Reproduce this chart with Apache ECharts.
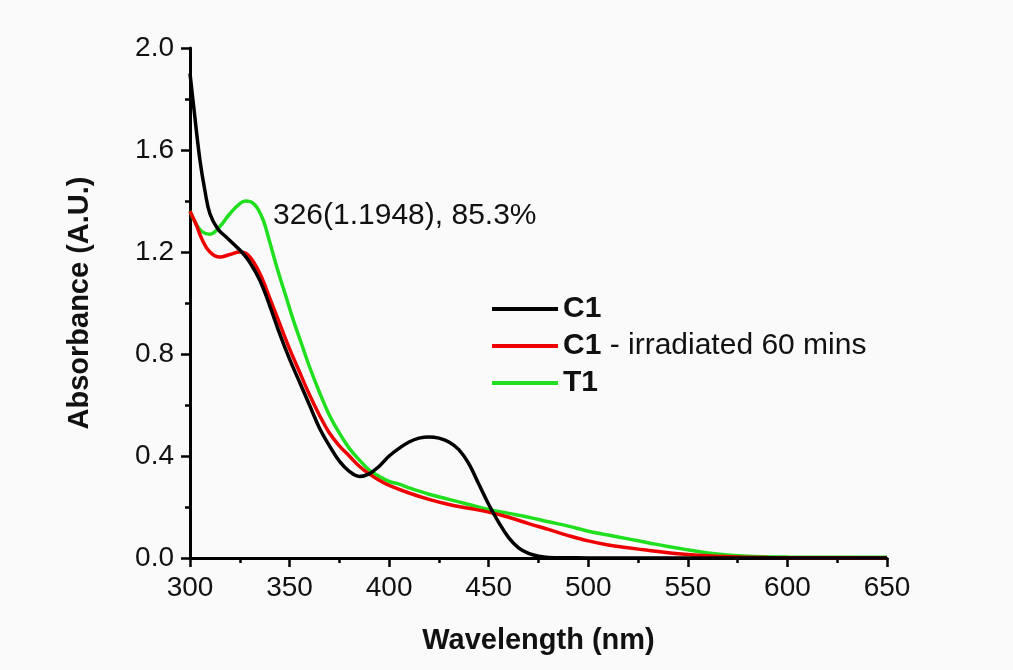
<!DOCTYPE html>
<html>
<head>
<meta charset="utf-8">
<script src="https://cdn.jsdelivr.net/npm/echarts@6/dist/echarts.min.js"></script>
<style>html,body{margin:0;padding:0;background:#fafafa;}#chart{width:1013px;height:670px;}</style>
</head>
<body>
<div id="chart"></div>
<script>
// Wavelength (nm) and absorbance values
const c1Wavelength = [300,302,305,307.5,310,314,318,322,326,330,335,340,345,350,355,360,365,370,375,380,385,390,395,400,405,410,415,420,425,430,435,440,445,450,455,460,465,470,475,480,490,500,550,600,650];
const c1Absorbance = [1.90,1.76,1.56,1.44,1.35,1.29,1.26,1.23,1.20,1.16,1.09,0.99,0.88,0.78,0.69,0.60,0.51,0.44,0.38,0.34,0.32,0.33,0.36,0.40,0.43,0.455,0.47,0.475,0.47,0.455,0.425,0.37,0.29,0.21,0.14,0.08,0.04,0.018,0.007,0.002,0.001,0,0,0,0];

const irrWavelength = [300,303,306,310,315,320,325,328,332,336,340,345,350,355,360,365,370,375,380,385,390,395,400,410,420,430,440,450,460,470,480,490,500,510,520,530,540,550,560,575,590,610,650];
const irrAbsorbance = [1.36,1.31,1.25,1.20,1.18,1.19,1.20,1.195,1.16,1.10,1.02,0.92,0.82,0.73,0.64,0.56,0.49,0.44,0.40,0.36,0.33,0.305,0.285,0.255,0.23,0.21,0.195,0.18,0.16,0.135,0.112,0.088,0.067,0.051,0.04,0.03,0.021,0.014,0.009,0.004,0.002,0.001,0];

const t1Wavelength = [300,303,306,310,315,320,325,328,331,334,337,340,344,348,352,356,360,365,370,375,380,385,390,395,400,405,410,420,430,440,450,460,470,480,490,500,510,520,530,540,550,560,570,580,600,620,650];
const t1Absorbance = [1.36,1.31,1.28,1.27,1.30,1.35,1.39,1.40,1.395,1.37,1.32,1.24,1.13,1.03,0.93,0.84,0.75,0.65,0.56,0.49,0.43,0.385,0.345,0.32,0.30,0.29,0.275,0.25,0.23,0.21,0.19,0.175,0.16,0.142,0.125,0.105,0.09,0.075,0.06,0.045,0.032,0.02,0.012,0.007,0.004,0.003,0.003];

const xTicks = [300,350,400,450,500,550,600,650];
const yTicks = [0.0,0.4,0.8,1.2,1.6,2.0];
const seriesNames = ['C1','C1 - irradiated 60 mins','T1'];
const annotationText = '326(1.1948), 85.3%';

const zip = (xs, ys) => xs.map((x, i) => [x, ys[i]]);
const font = '"Liberation Sans", Arial, sans-serif';
const chart = echarts.init(document.getElementById('chart'));

chart.setOption({
  backgroundColor: '#fafafa',
  animation: false,
  grid: { left: 190, right: 126, top: 48, bottom: 112 },
  xAxis: {
    type: 'value', min: xTicks[0], max: xTicks[xTicks.length-1], interval: 50,
    name: 'Wavelength (nm)', nameLocation: 'middle', nameGap: 68,
    nameTextStyle: { fontFamily: font, fontSize: 29, fontWeight: 'bold', color: '#111' },
    axisLine: { show: true, onZero: false, lineStyle: { color: '#000', width: 3 } },
    axisTick: { show: true, inside: false, length: 9, lineStyle: { color: '#000', width: 2.5 } },
    minorTick: { show: true, splitNumber: 2, length: 5, lineStyle: { color: '#000', width: 2.5 } },
    axisLabel: { fontFamily: font, fontSize: 28, color: '#111', margin: 16 },
    splitLine: { show: false }
  },
  yAxis: {
    type: 'value', min: yTicks[0], max: yTicks[yTicks.length-1], interval: 0.4,
    name: 'Absorbance (A.U.)', nameLocation: 'middle', nameGap: 96, nameRotate: 90,
    nameTextStyle: { fontFamily: font, fontSize: 29, fontWeight: 'bold', color: '#111' },
    axisLine: { show: true, onZero: false, lineStyle: { color: '#000', width: 3 } },
    axisTick: { show: true, inside: false, length: 9, lineStyle: { color: '#000', width: 2.5 } },
    minorTick: { show: true, splitNumber: 2, length: 5, lineStyle: { color: '#000', width: 2.5 } },
    axisLabel: { fontFamily: font, fontSize: 28, color: '#111', margin: 16, formatter: v => v.toFixed(1) },
    splitLine: { show: false }
  },
  legend: {
    orient: 'vertical', left: 487, top: 289, itemWidth: 66, itemHeight: 4, itemGap: 7,
    icon: 'rect',
    data: seriesNames.map(n => ({ name: n, icon: 'rect' })),
    formatter: function (name) {
      if (name.indexOf('C1 - ') === 0) return '{b|C1}{n|' + name.slice(2) + '}';
      return '{b|' + name + '}';
    },
    textStyle: {
      fontFamily: font, fontSize: 30, color: '#111', lineHeight: 30,
      rich: {
        b: { fontFamily: font, fontSize: 30, fontWeight: 'bold', color: '#111' },
        n: { fontFamily: font, fontSize: 30, color: '#111' }
      }
    }
  },
  graphic: [{
    type: 'text', left: 273, top: 201,
    style: { text: annotationText, font: '30px ' + font, fill: '#111' }
  }],
  series: [
    { name: seriesNames[0], type: 'line', data: zip(c1Wavelength, c1Absorbance), smooth: 0.4, showSymbol: false, lineStyle: { color: '#000', width: 3.5 }, itemStyle: { color: '#000' }, z: 3 },
    { name: seriesNames[1], type: 'line', data: zip(irrWavelength, irrAbsorbance), smooth: 0.4, showSymbol: false, lineStyle: { color: '#ee0000', width: 3.5 }, itemStyle: { color: '#ee0000' }, z: 2 },
    { name: seriesNames[2], type: 'line', data: zip(t1Wavelength, t1Absorbance), smooth: 0.4, showSymbol: false, lineStyle: { color: '#1fdf1f', width: 3.5 }, itemStyle: { color: '#1fdf1f' }, z: 1 }
  ]
});
</script>
</body>
</html>
